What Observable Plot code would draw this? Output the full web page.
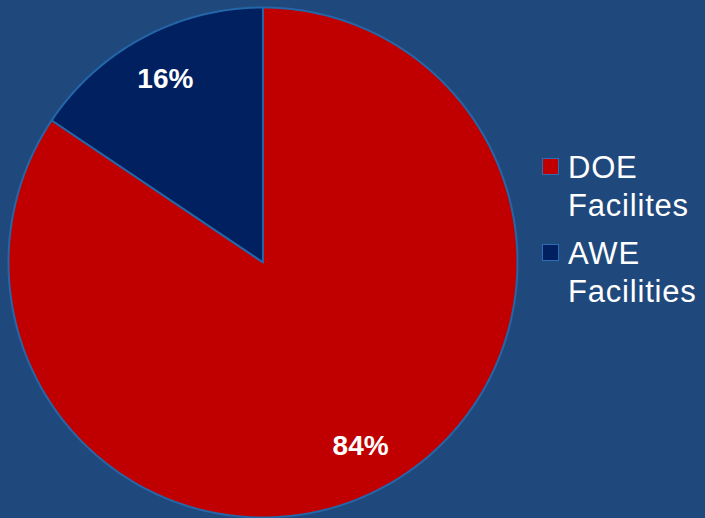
<!DOCTYPE html>
<html>
<head>
<meta charset="utf-8">
<script src="https://cdn.jsdelivr.net/npm/d3@7"></script>
<script src="https://cdn.jsdelivr.net/npm/@observablehq/plot@0.6"></script>
<style>
  html, body { margin: 0; padding: 0; background: #1F497D; }
  #wrap { position: relative; width: 705px; height: 518px; overflow: hidden; background: #1F497D; }
  #chart { position: absolute; left: 0; top: 0; }
  #legend { position: absolute; left: 542px; top: 149px; font-family: "Liberation Sans", Arial, sans-serif; font-size: 31px; letter-spacing: 0.8px; color: #fff; line-height: 38px; }
  .item { display: flex; align-items: flex-start; margin-bottom: 10px; }
  .sw { width: 15px; height: 15px; margin-top: 9px; margin-right: 9px; border: 1px solid #2E6DB4; flex: none; }
</style>
</head>
<body>
<div id="wrap"><div id="chart"></div><div id="legend"></div></div>
<script>
// Data (order as drawn: clockwise starting from the AWE slice)
const categories = ["AWE Facilities", "DOE Facilites"];
const legendLabels = [["AWE", "Facilities"], ["DOE", "Facilites"]];
const legendOrder = ["DOE Facilites", "AWE Facilities"];
const shares = [15.6, 84.4];
const valueLabels = ["16%", "84%"];
const colors = ["#002060", "#C00000"];

const total = d3.sum(shares);
const start = -shares[0] / total * 2 * Math.PI; // AWE ends at 12 o'clock
const pie = d3.pie().sort(null).value(d => d).startAngle(start).endAngle(start + 2 * Math.PI)(shares);

const polys = [];
const labelPts = [];
pie.forEach((p, i) => {
  const n = Math.max(8, Math.ceil((p.endAngle - p.startAngle) * 80));
  polys.push({cat: categories[i], x: 0, y: 0});
  for (let k = 0; k <= n; k++) {
    const a = p.startAngle + (p.endAngle - p.startAngle) * k / n;
    polys.push({cat: categories[i], x: Math.sin(a), y: Math.cos(a)});
  }
  polys.push({cat: categories[i], x: 0, y: 0});
  const m = (p.startAngle + p.endAngle) / 2;
  labelPts.push({cat: categories[i], label: valueLabels[i], x: 0.815 * Math.sin(m), y: 0.815 * Math.cos(m)});
});

const plot = Plot.plot({
  width: 530,
  height: 518,
  marginLeft: 8, marginRight: 13, marginTop: 7, marginBottom: 1,
  x: {domain: [-1, 1], axis: null},
  y: {domain: [-1, 1], axis: null},
  color: {domain: categories, range: colors},
  style: {background: "transparent"},
  marks: [
    Plot.line(polys, {x: "x", y: "y", z: "cat", fill: "cat", stroke: "#2466A8", strokeWidth: 2, strokeLinejoin: "round"}),
    Plot.text(labelPts, {x: "x", y: "y", text: "label", fill: "white", fontSize: 28, fontWeight: "bold", fontFamily: "Liberation Sans, Arial, sans-serif"})
  ]
});
document.getElementById("chart").append(plot);

const leg = document.getElementById("legend");
legendOrder.forEach(c => {
  const i = categories.indexOf(c);
  const item = document.createElement("div");
  item.className = "item";
  const sw = document.createElement("div");
  sw.className = "sw";
  sw.style.background = colors[i];
  const t = document.createElement("div");
  t.innerHTML = legendLabels[i].join("<br>");
  item.append(sw, t);
  leg.append(item);
});
</script>
</body>
</html>
